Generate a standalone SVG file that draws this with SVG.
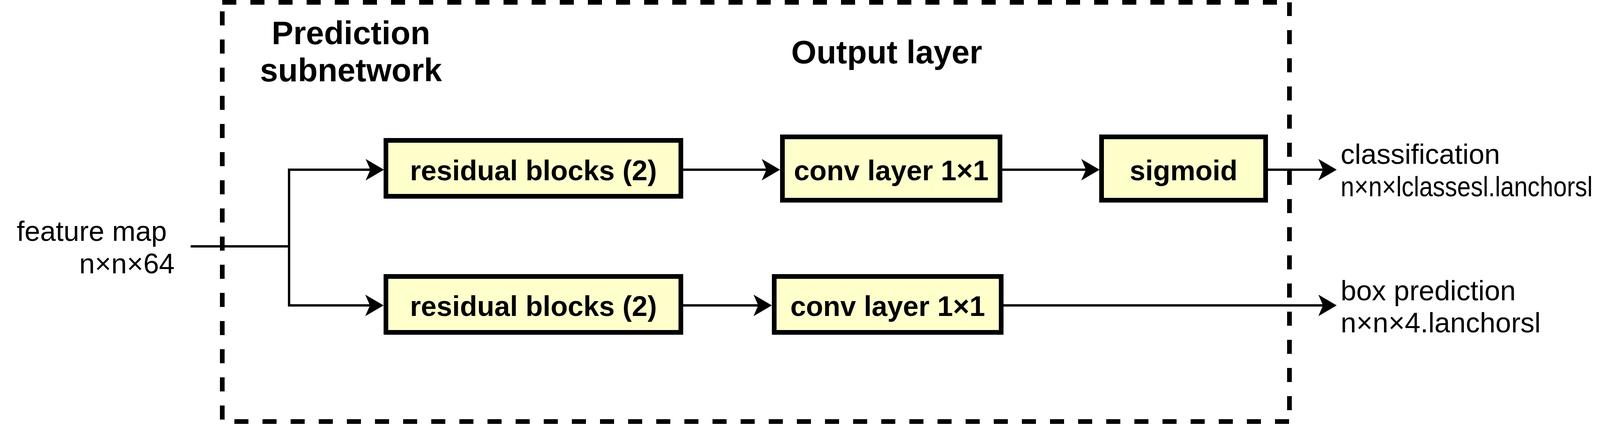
<svg xmlns="http://www.w3.org/2000/svg" width="4192" height="1092" viewBox="0 0 4192 1092">
<style>
.box{fill:#FFFFCC;stroke:#000;stroke-width:12}
.lbl{font-family:"Liberation Sans",Arial,Helvetica,sans-serif;font-size:72px;font-weight:bold;text-anchor:middle;fill:#000}
.title{font-family:"Liberation Sans",Arial,Helvetica,sans-serif;font-size:83px;font-weight:bold;text-anchor:middle;fill:#000}
.txt{font-family:"Liberation Sans",Arial,Helvetica,sans-serif;font-size:72px;fill:#000}
.edge{fill:none;stroke:#000;stroke-width:6;marker-end:url(#arr)}
.frame{fill:none;stroke:#000;stroke-width:12;stroke-dasharray:36 36}
</style>
<defs>
<marker id="arr" markerUnits="userSpaceOnUse" viewBox="-30 -30 52 60" markerWidth="52" markerHeight="60" refX="0" refY="0" orient="auto" overflow="visible">
<path d="M20,0 L-27,-27.5 L-15,0 L-27,27.5 Z" fill="#000"/>
</marker>
</defs>
<g id="frame">
<line class="frame" x1="569" y1="6" x2="3301" y2="6"/>
<line class="frame" x1="3301" y1="6" x2="3301" y2="1078" stroke-dashoffset="1"/>
<line class="frame" x1="569" y1="1078" x2="3301" y2="1078" stroke-dashoffset="41"/>
<line class="frame" x1="569" y1="6" x2="569" y2="1078" stroke-dashoffset="49"/>
<text class="title" x="898.5" y="112.7">Prediction</text>
<text class="title" x="898.5" y="208.3">subnetwork</text>
<text class="title" x="2270" y="162">Output layer</text>
</g>
<g id="feature-map">
<text class="txt" x="427" y="616" text-anchor="end">feature map</text>
<text class="txt" x="447" y="699" text-anchor="end">n×n×64</text>
</g>
<g id="classification">
<text class="txt" x="3432" y="419">classification</text>
<text class="txt" x="3432" y="501.7" textLength="645" lengthAdjust="spacingAndGlyphs">n×n×lclassesl.lanchorsl</text>
</g>
<g id="box-prediction">
<text class="txt" x="3432" y="768">box prediction</text>
<text class="txt" x="3432" y="850">n×n×4.lanchorsl</text>
</g>
<g id="residual-top">
<rect class="box" x="988" y="359" width="755" height="143"/>
<text class="lbl" x="1365.5" y="461">residual blocks (2)</text>
</g>
<g id="conv-top">
<rect class="box" x="2003" y="350" width="557" height="162"/>
<text class="lbl" x="2281.5" y="461">conv layer 1×1</text>
</g>
<g id="sigmoid">
<rect class="box" x="2820" y="350" width="420" height="162"/>
<text class="lbl" x="3030" y="461">sigmoid</text>
</g>
<g id="residual-bottom">
<rect class="box" x="988" y="707" width="755" height="143"/>
<text class="lbl" x="1365.5" y="808">residual blocks (2)</text>
</g>
<g id="conv-bottom">
<rect class="box" x="1982" y="707" width="581" height="143"/>
<text class="lbl" x="2272.5" y="808">conv layer 1×1</text>
</g>
<g id="connectors">
<path class="edge" d="M488,630 H740 V434 H963"/>
<path class="edge" d="M740,630 V781 H962"/>
<path class="edge" d="M1749,434 H1977"/>
<path class="edge" d="M2566,434 H2795"/>
<path class="edge" d="M3246,434 H3402"/>
<path class="edge" d="M1749,781 H1956"/>
<path class="edge" d="M2569,781 H3402"/>
</g>
</svg>
